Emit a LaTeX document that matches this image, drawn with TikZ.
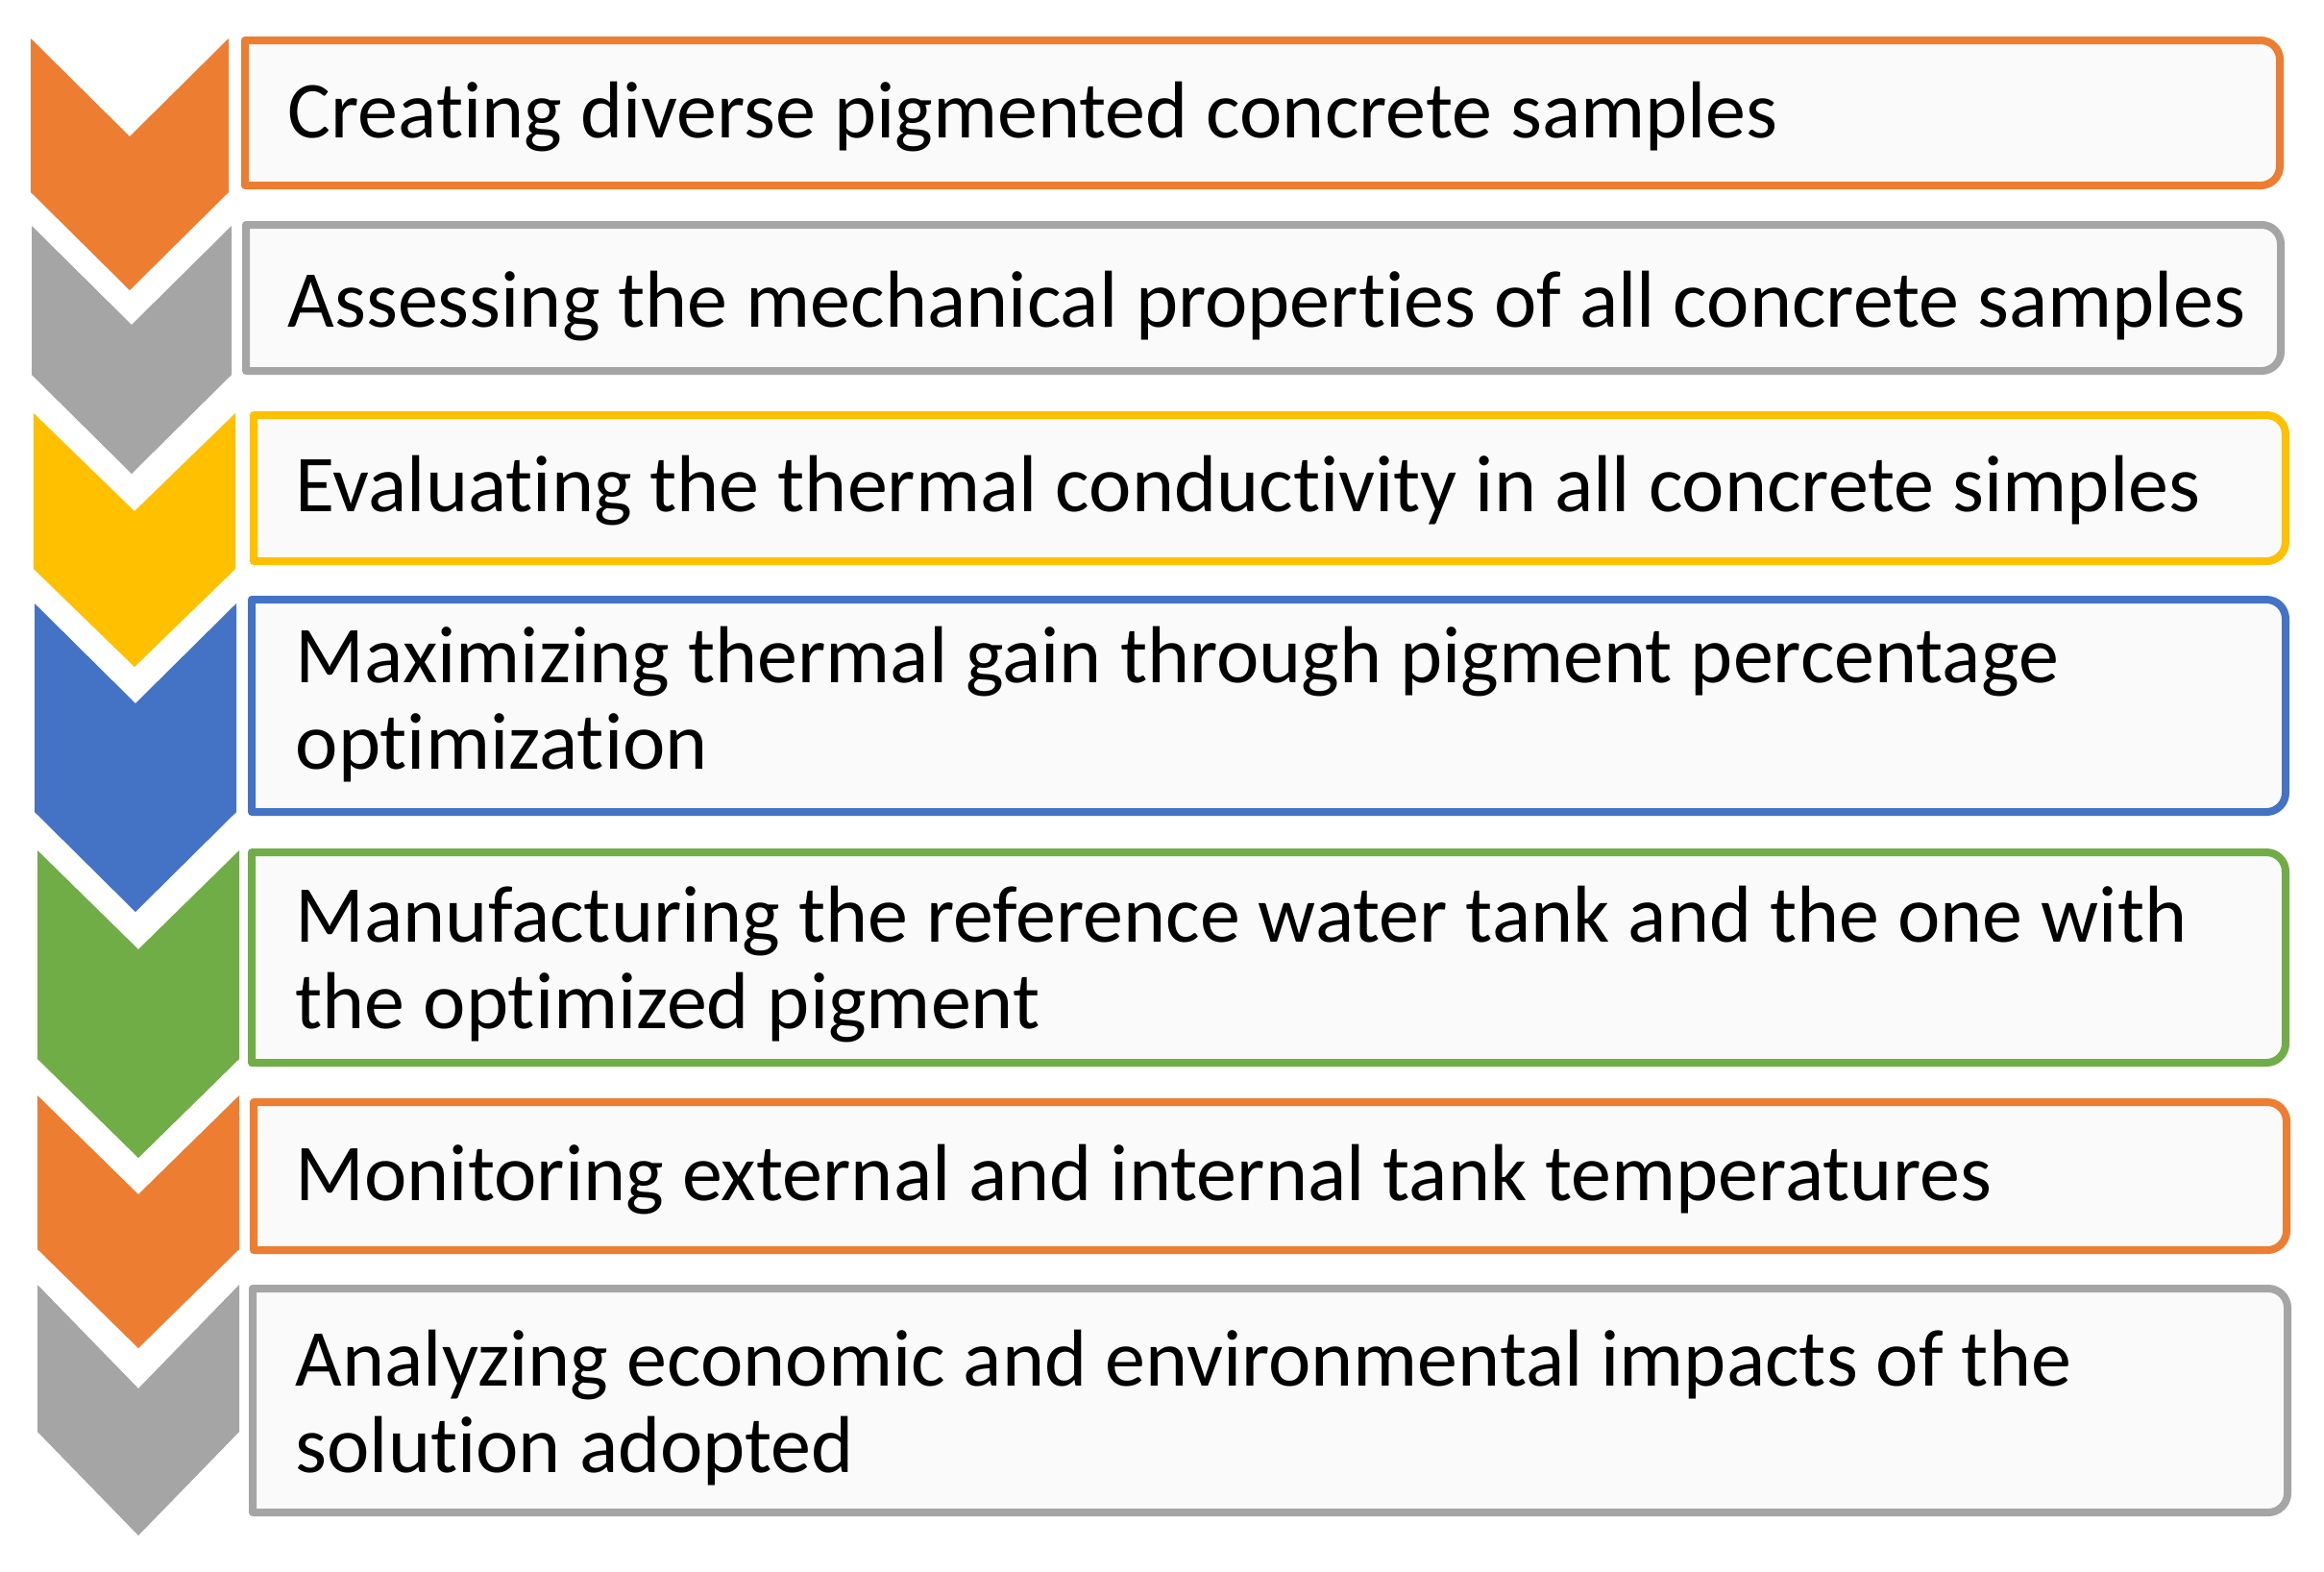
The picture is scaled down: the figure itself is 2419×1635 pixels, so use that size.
\documentclass[tikz,border=0pt]{standalone}
\usepackage{fontspec}
\setmainfont{Carlito}[Ligatures=NoCommon]
\definecolor{cOrange}{HTML}{ED7D31}
\definecolor{cGray}{HTML}{A5A5A5}
\definecolor{cYellow}{HTML}{FFC000}
\definecolor{cBlue}{HTML}{4472C4}
\definecolor{cGreen}{HTML}{70AD47}
\definecolor{boxfill}{HTML}{FAFAFA}
\tikzset{
  stepbox/.style={draw=#1, line width=0.08cm, fill=boxfill, line join=round},
  chev/.style={fill=#1, draw=none},
  lbl/.style={anchor=base west, inner sep=0pt, align=left, text=black,
              font=\fontsize{23.9}{25.6}\selectfont}
}
\begin{document}
\begin{tikzpicture}[x=0.01cm,y=0.01cm]
\useasboundingbox[fill=white] (0,0) rectangle (2419,-1635);
% chevrons: left/right/top/straight-bottom/depth/colour
\foreach \L/\R/\T/\B/\D/\c in {
  32/238/40/200/102/cOrange,
  33/241/235/390/103/cGray,
  35/245/430/592/102/cYellow,
  36/246/628/845/104/cBlue,
  39/249/885/1102/103/cGreen,
  39/249/1140/1300/103/cOrange,
  39/249/1337/1490/108/cGray}{
  \fill[chev=\c] (\L,-\T) -- ({(\L+\R)/2},{-\T-\D}) -- (\R,-\T) -- (\R,-\B)
     -- ({(\L+\R)/2},{-\B-\D}) -- (\L,-\B) -- cycle;
}
% boxes: outer left/right/top/bottom/colour
\foreach \L/\R/\T/\B/\c in {
  251/2377/38/197/cOrange,
  252/2378/230/390/cGray,
  260/2383/428/588/cYellow,
  258/2383/620/849/cBlue,
  258/2383/883/1110/cGreen,
  260/2384/1143/1305/cOrange,
  259/2385/1337/1578/cGray}{
  \draw[stepbox=\c] ({\L+4},{-\T-4}) -- ({\R-24},{-\T-4})
     arc[start angle=90,end angle=0,radius=20] -- ({\R-4},{-\B+24})
     arc[start angle=0,end angle=-90,radius=20] -- ({\L+4},{-\B+4}) -- cycle;
}
% single-line labels: baseline given; two-line labels: baseline of last line given
\node[lbl] (t1) at (299,-143) {Creating diverse pigmented concrete samples};
\node[lbl] (t2) at (299,-340) {Assessing the mechanical properties of all concrete samples};
\node[lbl] (t3) at (307,-532) {Evaluating the thermal conductivity in all concrete simples};
\node[lbl] (t4) at (307,-800) {Maximizing thermal gain through pigment percentage\\optimization};
\node[lbl] (t5) at (307,-1070) {Manufacturing the reference water tank and the one with\\the optimized pigment};
\node[lbl] (t6) at (307,-1249) {Monitoring external and internal tank temperatures};
\node[lbl] (t7) at (307,-1532) {Analyzing economic and environmental impacts of the\\solution adopted};
\end{tikzpicture}
\end{document}
